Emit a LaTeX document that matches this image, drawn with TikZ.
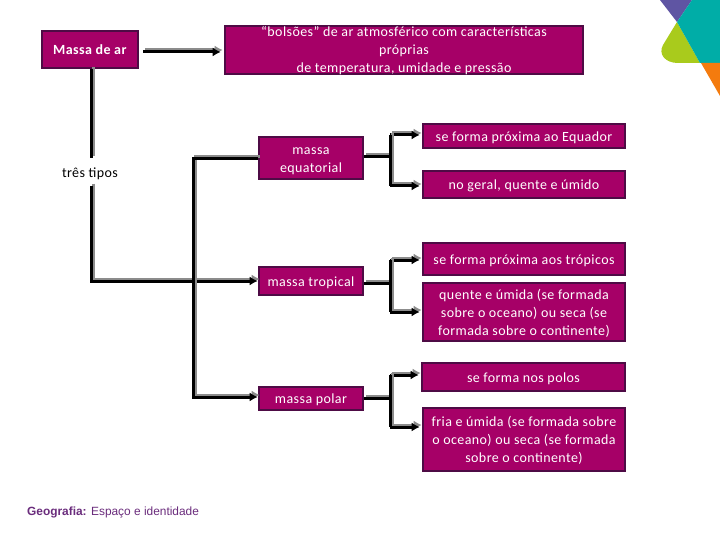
\documentclass[tikz,border=0pt]{standalone}
\usepackage{fontspec}
\setmainfont{Carlito}[LetterSpace=3]
\newfontfamily\footfont{Liberation Sans}
\usetikzlibrary{arrows.meta}
\definecolor{boxfill}{HTML}{A60067}
\definecolor{boxedge}{HTML}{4E0B45}
\definecolor{footcol}{HTML}{6A2C7C}
\definecolor{logopurple}{HTML}{5F55A3}
\definecolor{logoteal}{HTML}{00ADA7}
\definecolor{logogreen}{HTML}{A9CB1C}
\definecolor{logoorange}{HTML}{F47B0E}
\newcommand\lowtext[1]{\raisebox{-1.5pt}[\height][\depth]{\begin{tabular}{@{}c@{}}#1\end{tabular}}}
\newcommand\lowtextfixed[1]{\raisebox{-1.5pt}[24.5pt][17.5pt]{\begin{tabular}{@{}c@{}}#1\end{tabular}}}
\tikzset{
  box/.style={draw=boxedge,fill=boxfill,line width=2.6pt,text=white,align=center,inner sep=0pt,
    font=\fontsize{14}{18}\selectfont},
  plainlabel/.style={inner sep=0pt,align=center,font=\fontsize{14}{18}\selectfont},
  conn/.style={line width=3pt,black,
    preaction={draw=black!45,line width=3pt,transform canvas={shift={(2pt,2pt)}}}},
  arr/.style={conn,-{Latex[length=8pt,width=9pt]}},
}
\begin{document}
\begin{tikzpicture}[x=1pt,y=-1pt]
\useasboundingbox (0,0) rectangle (720,540);
% logo
\fill[logopurple] (660,0) -- (692,0) -- (677,22) -- cycle;
\fill[logogreen] (677,22) -- (700,63) -- (678,63) .. controls (665,63) and (658,54) .. (663,45) -- cycle;
\fill[logoteal] (692,0) -- (720,0) -- (720,63) -- (700,63) -- (677,22) -- cycle;
\fill[logoorange] (701,63) -- (720,63) -- (720,96) -- cycle;
% boxes
\node[box,minimum width=96pt,minimum height=37pt] (massa) at (90,49.5) {\lowtext{\textbf{Massa de ar}}};
\node[box,minimum width=358pt,minimum height=48pt] (bolsoes) at (404,50) {\lowtextfixed{“bolsões” de ar atmosférico com características\\próprias\\de temperatura, umidade e pressão}};
\node[plainlabel,minimum height=27pt,minimum width=60pt] (tres) at (90,172) {\lowtext{três tipos}};
\node[box,minimum width=104pt,minimum height=42pt] (equat) at (311,158) {\lowtext{massa\\equatorial}};
\node[box,minimum width=104pt,minimum height=28pt] (trop) at (311,281) {\lowtext{massa tropical}};
\node[box,minimum width=104pt,minimum height=23pt] (polar) at (311,398.5) {\lowtext{massa polar}};
\node[box,minimum width=202pt,minimum height=24pt] (e1) at (524,136) {\lowtext{se forma próxima ao Equador}};
\node[box,minimum width=202pt,minimum height=27pt] (e2) at (524,184.5) {\lowtext{no geral, quente e úmido}};
\node[box,minimum width=202pt,minimum height=32pt] (t1) at (524,259) {\lowtext{se forma próxima aos trópicos}};
\node[box,minimum width=202pt,minimum height=58pt] (t2) at (524,312) {\lowtext{quente e úmida (se formada\\sobre o oceano) ou seca (se\\formada sobre o continente)}};
\node[box,minimum width=203pt,minimum height=28pt] (p1) at (523.5,377) {\lowtext{se forma nos polos}};
\node[box,minimum width=202pt,minimum height=63pt] (p2) at (524,439.5) {\lowtext{fria e úmida (se formada sobre\\o oceano) ou seca (se formada\\sobre o continente)}};
\node[anchor=base west,inner sep=0pt,text=footcol,font=\footfont\fontsize{11.9}{14}\selectfont] (foot) at (27,515) {\textbf{Geografia:} Espaço e identidade};
% junctions
\coordinate (c1) at (91,281);
\coordinate (c2) at (193,159);
\coordinate (c3) at (193,397);
\coordinate (je) at (390,157);
\coordinate (jet) at (390,135);
\coordinate (jeb) at (390,186);
\coordinate (jt) at (390,283);
\coordinate (jtt) at (390,260);
\coordinate (jtb) at (390,312);
\coordinate (jp) at (390,398);
\coordinate (jpt) at (390,375);
\coordinate (jpb) at (390,427);
% connectors
\draw[arr,shorten <=4pt,shorten >=3pt] (massa.east |- 0,52) -- (bolsoes.west |- 0,52);
\draw[conn] (massa.south -| c1) -- (tres.north -| c1);
\draw[arr] (tres.south -| c1) -- (c1) -- (trop.west |- c1);
\draw[arr] (c2 -| equat.west) -- (c2) -- (c3) -- (c3 -| polar.west);
\draw[conn] (equat.east |- je) -- (je);
\draw[arr,shorten >=2pt] (jet) -- (jet -| e1.west);
\draw[arr,shorten >=2pt] (jeb) -- (jeb -| e2.west);
\draw[conn] (jet) -- (jeb);
\draw[conn] (trop.east |- jt) -- (jt);
\draw[arr,shorten >=2pt] (jtt) -- (jtt -| t1.west);
\draw[arr,shorten >=2pt] (jtb) -- (jtb -| t2.west);
\draw[conn] (jtt) -- (jtb);
\draw[conn] (polar.east |- jp) -- (jp);
\draw[arr,shorten >=2pt] (jpt) -- (jpt -| p1.west);
\draw[arr,shorten >=2pt] (jpb) -- (jpb -| p2.west);
\draw[conn] (jpt) -- (jpb);
\end{tikzpicture}
\end{document}
